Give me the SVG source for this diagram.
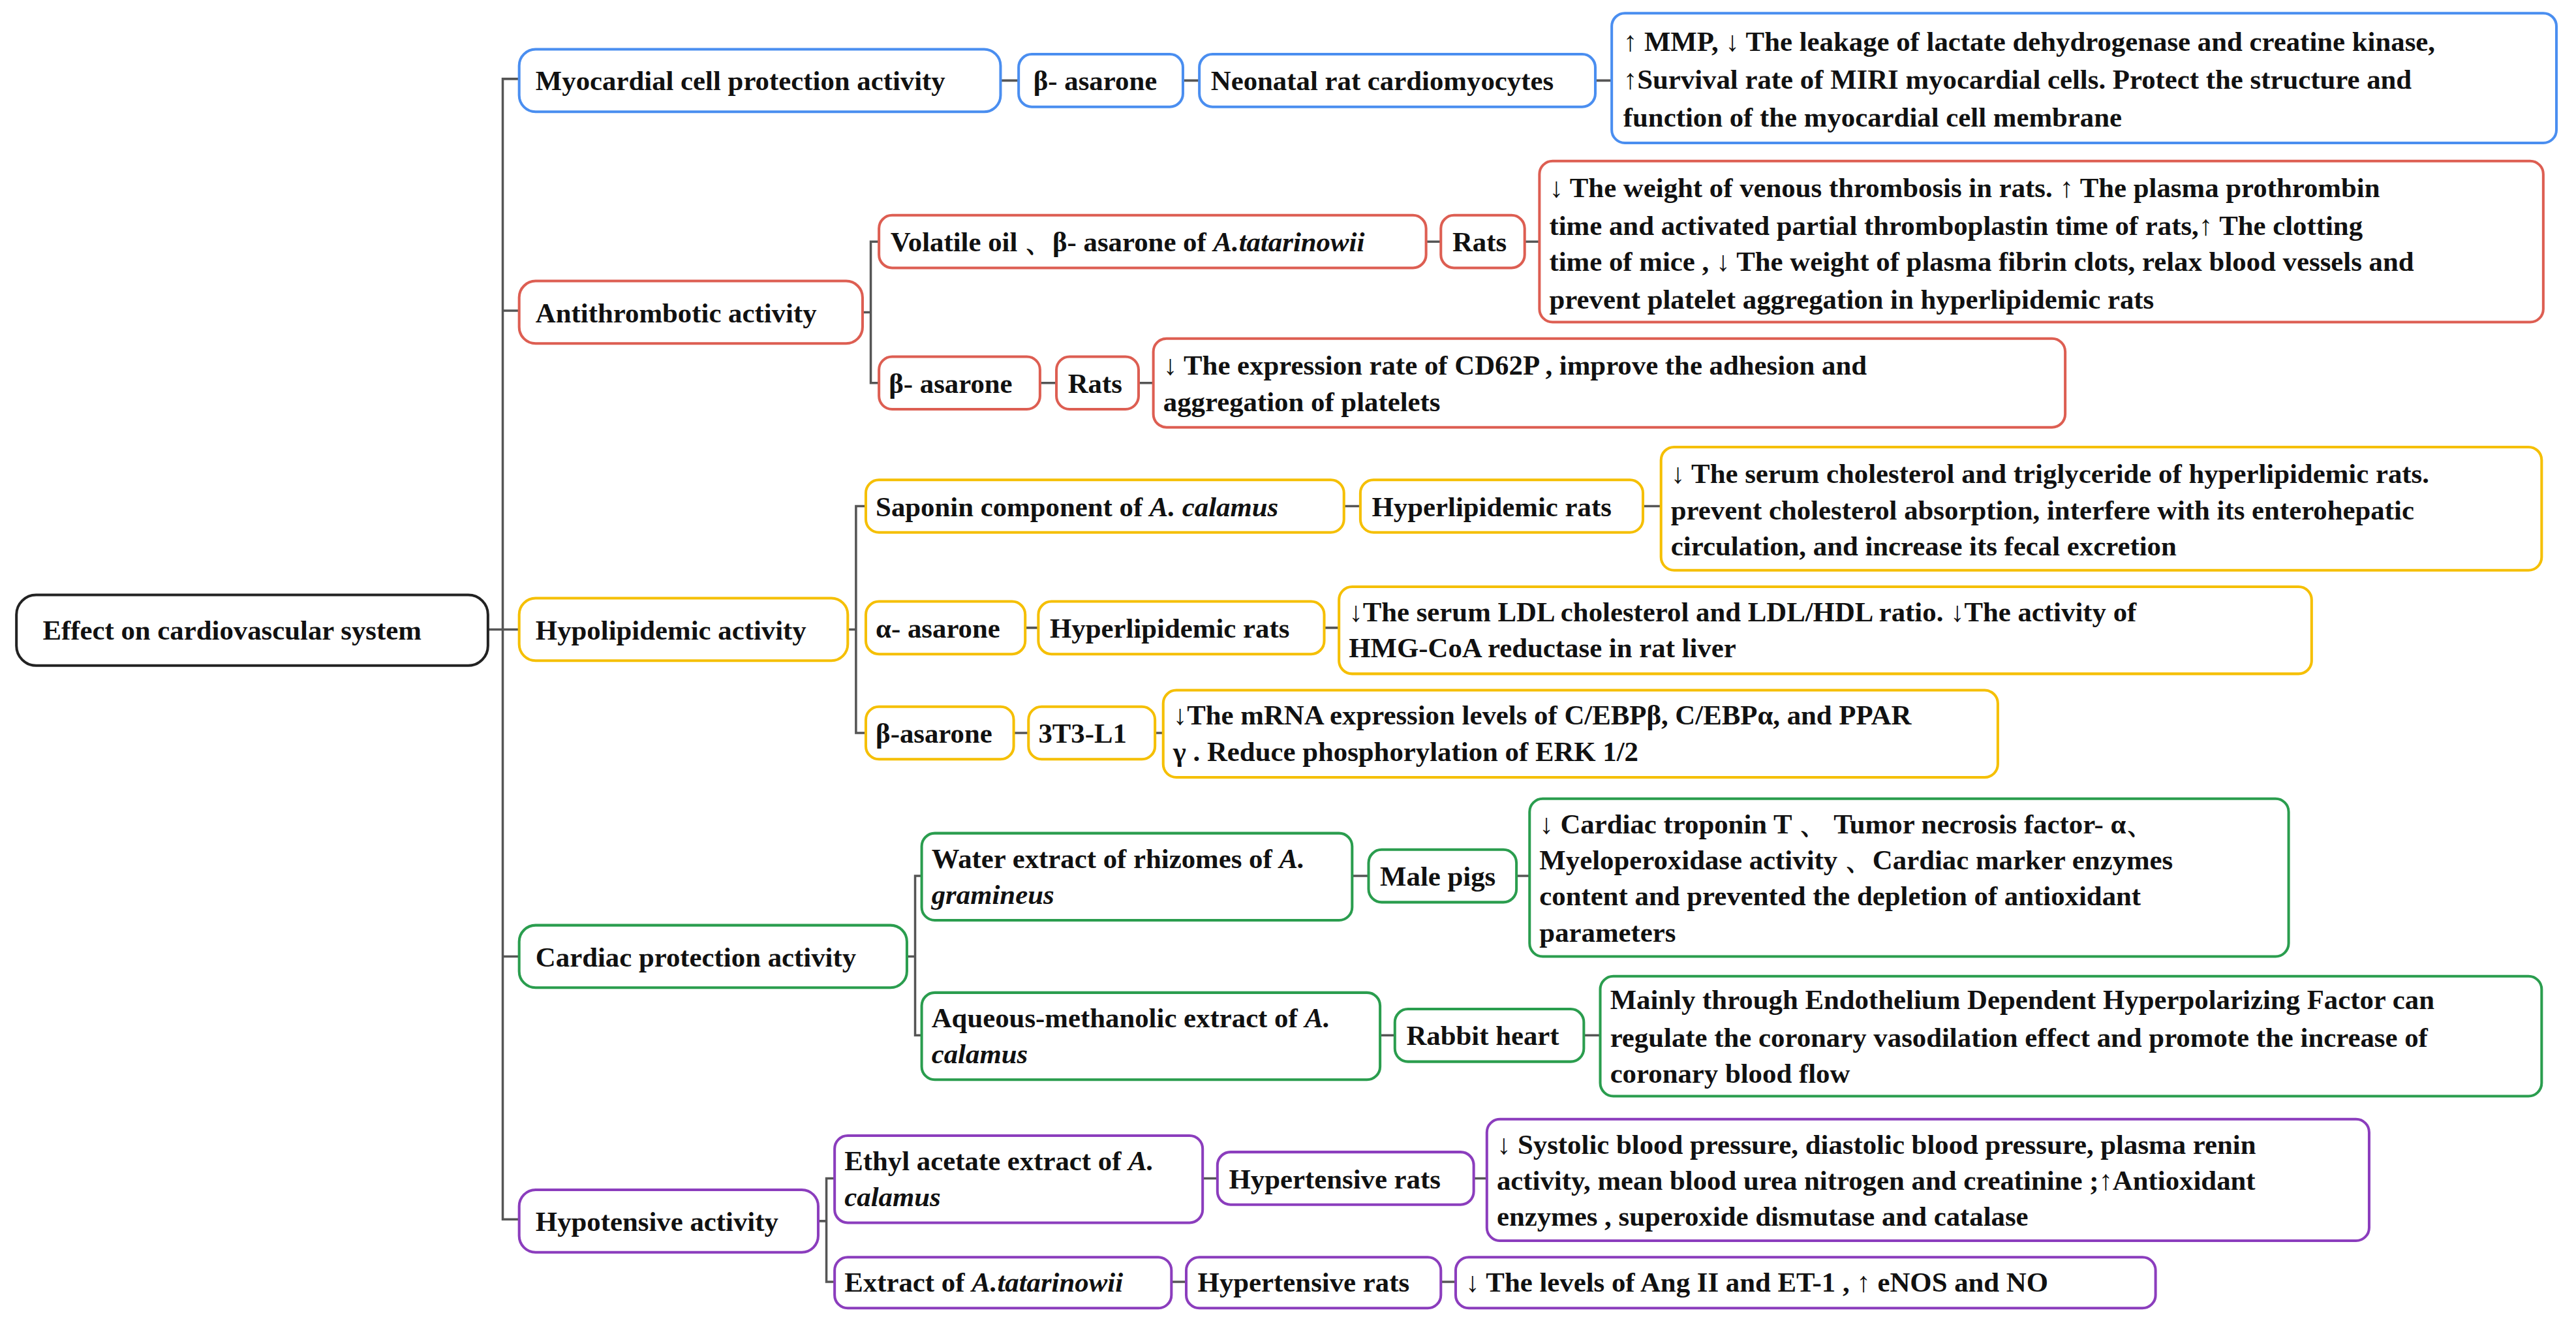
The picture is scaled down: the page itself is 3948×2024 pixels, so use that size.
<svg xmlns="http://www.w3.org/2000/svg" width="3948" height="2024" viewBox="0 0 3948 2024">
<style>
text{font-family:"Liberation Serif","Times New Roman",serif;font-weight:bold;font-size:17px;fill:#111}
.i{font-style:italic}
rect{fill:#fff;stroke-width:1.6}
.k rect{stroke:#222}
.b rect{stroke:#4a8ef0}
.r rect{stroke:#dd5e52}
.y rect{stroke:#f5bf00}
.g rect{stroke:#2a9d4e}
.p rect{stroke:#8b3dbd}
#connectors path{fill:none;stroke:#555;stroke-width:1.4}
</style>
<rect x="0" y="0" width="3948" height="2024" style="fill:#fff;stroke:none"/>
<g transform="scale(2.518)">
<g id="connectors">
<path d="M297 383H306M316 48H306V742H316M306 189H316M306 383H316M306 582H316"/>
<path d="M609 49H620M720 49H730M971 49H981"/>
<path d="M525 190H530M535 147H530V233H535M868 147H877M928 147H937M633 233H643M693 233H702"/>
<path d="M516 383H521M527 308H521V446H527M818 308H828M1000 308H1011M624 382H632M806 382H815M617 446H626M703 446H708"/>
<path d="M552 582H557M561 533H557V630H561M823 533H833M923 533H931M840 630H849M964 630H974"/>
<path d="M498 743H503M508 717H503V780H508M732 717H741M897 717H905M713 780H722M877 780H886"/>
</g>
<g id="root" class="k"><rect x="10" y="362" width="287" height="43" rx="12"/><text x="26" y="389">Effect on cardiovascular system</text></g>

<g id="n-myo" class="b"><rect x="316" y="30" width="293" height="38" rx="10"/><text x="326" y="55">Myocardial cell protection activity</text></g>
<g id="n-myo-1" class="b"><rect x="620" y="33" width="100" height="32" rx="8"/><text x="629" y="55">β- asarone</text></g>
<g id="n-myo-2" class="b"><rect x="730" y="33" width="241" height="32" rx="8"/><text x="737" y="55">Neonatal rat cardiomyocytes</text></g>
<g id="n-myo-3" class="b"><rect x="981" y="8" width="575" height="79" rx="8"/><text x="988" y="31">↑ MMP, ↓ The leakage of lactate dehydrogenase and creatine kinase,</text><text x="988" y="54">↑Survival rate of MIRI myocardial cells.  Protect the structure and</text><text x="988" y="77">function of the myocardial cell membrane</text></g>

<g id="n-anti" class="r"><rect x="316" y="171" width="209" height="38" rx="10"/><text x="326" y="196">Antithrombotic activity</text></g>
<g id="n-anti-1" class="r"><rect x="535" y="131" width="333" height="32" rx="8"/><text x="542" y="153">Volatile oil 、β- asarone of <tspan class="i">A.tatarinowii</tspan></text></g>
<g id="n-anti-2" class="r"><rect x="877" y="131" width="51" height="32" rx="8"/><text x="884" y="153">Rats</text></g>
<g id="n-anti-3" class="r"><rect x="937" y="98" width="611" height="98" rx="8"/><text x="943" y="120">↓ The weight of venous thrombosis in rats.  ↑ The plasma  prothrombin</text><text x="943" y="143">time and activated partial thromboplastin  time  of rats,↑  The clotting</text><text x="943" y="165">time of mice , ↓ The weight of  plasma fibrin clots, relax blood vessels and</text><text x="943" y="188">prevent platelet aggregation in hyperlipidemic rats</text></g>
<g id="n-anti-4" class="r"><rect x="535" y="217" width="98" height="32" rx="8"/><text x="541" y="239">β- asarone</text></g>
<g id="n-anti-5" class="r"><rect x="643" y="217" width="50" height="32" rx="8"/><text x="650" y="239">Rats</text></g>
<g id="n-anti-6" class="r"><rect x="702" y="206" width="555" height="54" rx="8"/><text x="708" y="228">↓ The expression rate of CD62P , improve the adhesion and</text><text x="708" y="250">aggregation of platelets</text></g>

<g id="n-lip" class="y"><rect x="316" y="364" width="200" height="38" rx="10"/><text x="326" y="389">Hypolipidemic activity</text></g>
<g id="n-lip-1" class="y"><rect x="527" y="292" width="291" height="32" rx="8"/><text x="533" y="314">Saponin component of  <tspan class="i">A. calamus</tspan></text></g>
<g id="n-lip-2" class="y"><rect x="828" y="292" width="172" height="32" rx="8"/><text x="835" y="314">Hyperlipidemic rats</text></g>
<g id="n-lip-3" class="y"><rect x="1011" y="272" width="536" height="75" rx="8"/><text x="1017" y="294">↓ The serum cholesterol and triglyceride of hyperlipidemic rats.</text><text x="1017" y="316">prevent cholesterol absorption, interfere with its enterohepatic</text><text x="1017" y="338">circulation, and increase its fecal excretion</text></g>
<g id="n-lip-4" class="y"><rect x="527" y="366" width="97" height="32" rx="8"/><text x="533" y="388">α- asarone</text></g>
<g id="n-lip-5" class="y"><rect x="632" y="366" width="174" height="32" rx="8"/><text x="639" y="388">Hyperlipidemic rats</text></g>
<g id="n-lip-6" class="y"><rect x="815" y="357" width="592" height="53" rx="8"/><text x="821" y="378">↓The serum LDL cholesterol and LDL/HDL ratio. ↓The activity of</text><text x="821" y="400">HMG-CoA reductase in rat liver</text></g>
<g id="n-lip-7" class="y"><rect x="527" y="430" width="90" height="32" rx="8"/><text x="533" y="452">β-asarone</text></g>
<g id="n-lip-8" class="y"><rect x="626" y="430" width="77" height="32" rx="8"/><text x="632" y="452">3T3-L1</text></g>
<g id="n-lip-9" class="y"><rect x="708" y="420" width="508" height="53" rx="8"/><text x="714" y="441">↓The mRNA expression levels of C/EBPβ, C/EBPα, and PPAR</text><text x="714" y="463">γ . Reduce phosphorylation of ERK 1/2</text></g>

<g id="n-car" class="g"><rect x="316" y="563" width="236" height="38" rx="10"/><text x="326" y="588">Cardiac protection activity</text></g>
<g id="n-car-1" class="g"><rect x="561" y="507" width="262" height="53" rx="8"/><text x="567" y="528">Water extract of rhizomes of <tspan class="i">A.</tspan></text><text x="567" y="550" class="i">gramineus</text></g>
<g id="n-car-2" class="g"><rect x="833" y="517" width="90" height="32" rx="8"/><text x="840" y="539">Male pigs</text></g>
<g id="n-car-3" class="g"><rect x="931" y="486" width="462" height="96" rx="8"/><text x="937" y="507">↓ Cardiac troponin T 、 Tumor necrosis factor- α、</text><text x="937" y="529">Myeloperoxidase  activity 、Cardiac marker enzymes</text><text x="937" y="551">content and prevented the depletion of antioxidant</text><text x="937" y="573">parameters</text></g>
<g id="n-car-4" class="g"><rect x="561" y="604" width="279" height="53" rx="8"/><text x="567" y="625">Aqueous-methanolic extract of <tspan class="i">A.</tspan></text><text x="567" y="647" class="i">   calamus</text></g>
<g id="n-car-5" class="g"><rect x="849" y="614" width="115" height="32" rx="8"/><text x="856" y="636">Rabbit heart</text></g>
<g id="n-car-6" class="g"><rect x="974" y="594" width="573" height="73" rx="8"/><text x="980" y="614">Mainly through Endothelium Dependent Hyperpolarizing Factor can</text><text x="980" y="637">regulate the coronary vasodilation effect and promote the increase of</text><text x="980" y="659">coronary blood flow</text></g>

<g id="n-hyp" class="p"><rect x="316" y="724" width="182" height="38" rx="10"/><text x="326" y="749">Hypotensive activity</text></g>
<g id="n-hyp-1" class="p"><rect x="508" y="691" width="224" height="53" rx="8"/><text x="514" y="712">Ethyl acetate extract of <tspan class="i">A.</tspan></text><text x="514" y="734" class="i">calamus</text></g>
<g id="n-hyp-2" class="p"><rect x="741" y="701" width="156" height="32" rx="8"/><text x="748" y="723">Hypertensive rats</text></g>
<g id="n-hyp-3" class="p"><rect x="905" y="681" width="537" height="74" rx="8"/><text x="911" y="702">↓ Systolic blood pressure, diastolic blood pressure, plasma renin</text><text x="911" y="724">activity, mean blood urea nitrogen and creatinine ;↑Antioxidant</text><text x="911" y="746">enzymes , superoxide dismutase and catalase</text></g>
<g id="n-hyp-4" class="p"><rect x="508" y="765" width="205" height="31" rx="8"/><text x="514" y="786">Extract of <tspan class="i">A.tatarinowii</tspan></text></g>
<g id="n-hyp-5" class="p"><rect x="722" y="765" width="155" height="31" rx="8"/><text x="729" y="786">Hypertensive rats</text></g>
<g id="n-hyp-6" class="p"><rect x="886" y="765" width="426" height="31" rx="8"/><text x="892" y="786">↓ The levels of Ang II and ET-1 , ↑ eNOS and NO</text></g>
</g>
</svg>
